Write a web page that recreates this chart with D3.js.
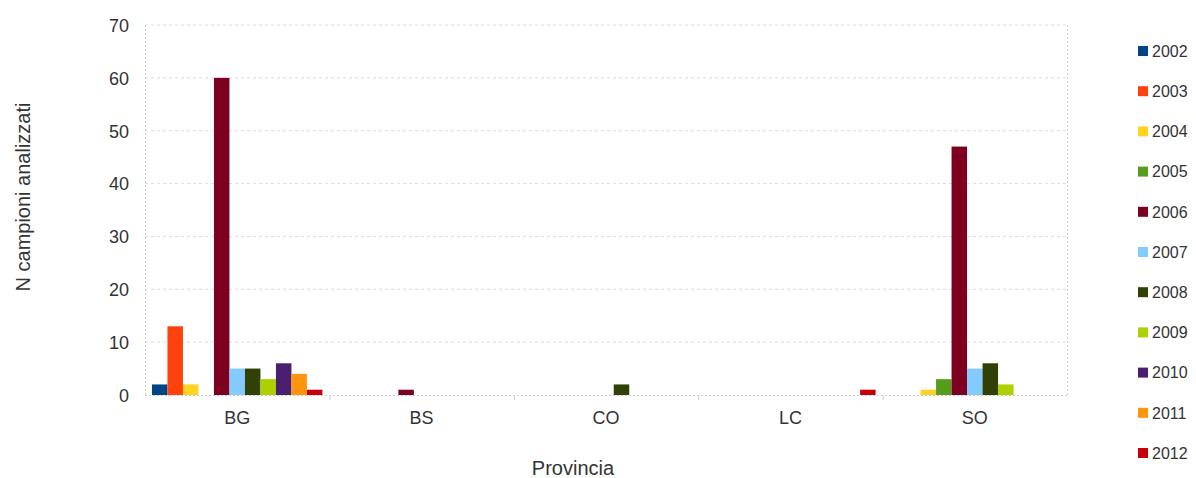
<!DOCTYPE html>
<html>
<head>
<meta charset="utf-8">
<script src="https://cdn.jsdelivr.net/npm/d3@7/dist/d3.min.js"></script>
<style>
  html, body { margin: 0; padding: 0; background: #fff; }
  text { font-family: "Liberation Sans", Arial, Helvetica, sans-serif; fill: #333; }
</style>
</head>
<body>
<svg id="chart" width="1196" height="478"></svg>
<script>
// Campioni analizzati per provincia e anno
const provinces = ["BG", "BS", "CO", "LC", "SO"];
const years = ["2002", "2003", "2004", "2005", "2006", "2007", "2008", "2009", "2010", "2011", "2012"];
const colors = ["#004586", "#ff420e", "#ffd320", "#579d1c", "#7e0021", "#83caff", "#314004", "#aecf00", "#4b1f6f", "#ff950e", "#c5000b"];
const yTicks = [0, 10, 20, 30, 40, 50, 60, 70];

// one array per province, values in year order
const valuesBG = [2, 13, 2, 0, 60, 5, 5, 3, 6, 4, 1];
const valuesBS = [0, 0, 0, 0, 1, 0, 0, 0, 0, 0, 0];
const valuesCO = [0, 0, 0, 0, 0, 0, 2, 0, 0, 0, 0];
const valuesLC = [0, 0, 0, 0, 0, 0, 0, 0, 0, 0, 1];
const valuesSO = [0, 0, 1, 3, 47, 5, 6, 2, 0, 0, 0];
const valuesByProvince = [valuesBG, valuesBS, valuesCO, valuesLC, valuesSO];

const svg = d3.select("#chart");
const plot = { left: 145, top: 25, right: 1067, bottom: 395 };

const x0 = d3.scaleBand().domain(provinces).range([plot.left, plot.right]).paddingInner(0).paddingOuter(0);
const x1 = d3.scaleBand().domain(years).range([0, x0.bandwidth()]).paddingOuter(0.45).paddingInner(0);
const y = d3.scaleLinear().domain([0, 70]).range([plot.bottom, plot.top]);
const color = d3.scaleOrdinal().domain(years).range(colors);

// horizontal gridlines
svg.append("g")
  .selectAll("line")
  .data(yTicks.filter(d => d > 0))
  .join("line")
  .attr("x1", plot.left).attr("x2", plot.right)
  .attr("y1", d => y(d)).attr("y2", d => y(d))
  .attr("stroke", "#dcdcdc").attr("stroke-width", 1)
  .attr("stroke-dasharray", "3,3");

// plot frame: left/right edges and baseline
const frame = svg.append("g").attr("stroke", "#cfcfcf").attr("stroke-width", 1).attr("stroke-dasharray", "2,2");
frame.append("line").attr("x1", plot.left + 0.5).attr("x2", plot.left + 0.5).attr("y1", plot.top).attr("y2", plot.bottom);
frame.append("line").attr("x1", plot.right + 0.5).attr("x2", plot.right + 0.5).attr("y1", plot.top).attr("y2", plot.bottom);
frame.append("line").attr("x1", plot.left).attr("x2", plot.right).attr("y1", plot.bottom + 0.5).attr("y2", plot.bottom + 0.5);

// y axis
const yAxis = d3.axisLeft(y).tickValues(yTicks).tickSize(0).tickPadding(0);
const ya = svg.append("g").attr("transform", `translate(${plot.left - 16},0)`).call(yAxis);
ya.select(".domain").remove();
ya.selectAll("text").style("font-size", "18px").attr("fill", "#333").attr("dy", "0.35em");

// x axis: ticks at category boundaries, labels centred
const xa = svg.append("g").attr("transform", `translate(0,${plot.bottom})`)
  .call(d3.axisBottom(x0).tickSize(0).tickPadding(16));
xa.select(".domain").remove();
xa.selectAll("text").style("font-size", "18px").attr("fill", "#333");
svg.append("g")
  .selectAll("line")
  .data(provinces.slice(1))
  .join("line")
  .attr("x1", d => x0(d) + 0.5).attr("x2", d => x0(d) + 0.5)
  .attr("y1", plot.bottom).attr("y2", plot.bottom + 5)
  .attr("stroke", "#cfcfcf");

// bars
const groups = svg.append("g")
  .selectAll("g")
  .data(provinces)
  .join("g")
  .attr("transform", d => `translate(${x0(d)},0)`);

groups.selectAll("rect")
  .data((p, i) => years.map((yr, j) => ({ year: yr, value: valuesByProvince[i][j] })).filter(d => d.value > 0))
  .join("rect")
  .attr("x", d => x1(d.year))
  .attr("width", x1.bandwidth())
  .attr("y", d => y(d.value))
  .attr("height", d => y(0) - y(d.value))
  .attr("fill", d => color(d.year));

// axis titles
svg.append("text")
  .attr("x", 573).attr("y", 475)
  .attr("text-anchor", "middle").style("font-size", "20px")
  .text("Provincia");
svg.append("text")
  .attr("transform", `translate(30,197) rotate(-90)`)
  .attr("text-anchor", "middle").style("font-size", "20px")
  .text("N campioni analizzati");

// legend
const legend = svg.append("g")
  .selectAll("g")
  .data(years)
  .join("g")
  .attr("transform", (d, i) => `translate(1138,${51 + i * 40.2})`);
legend.append("rect")
  .attr("x", 0).attr("y", -5).attr("width", 10).attr("height", 10)
  .attr("fill", d => color(d));
legend.append("text")
  .attr("x", 14).attr("y", 0).attr("dy", "0.36em")
  .style("font-size", "16px")
  .text(d => d);
</script>
</body>
</html>
